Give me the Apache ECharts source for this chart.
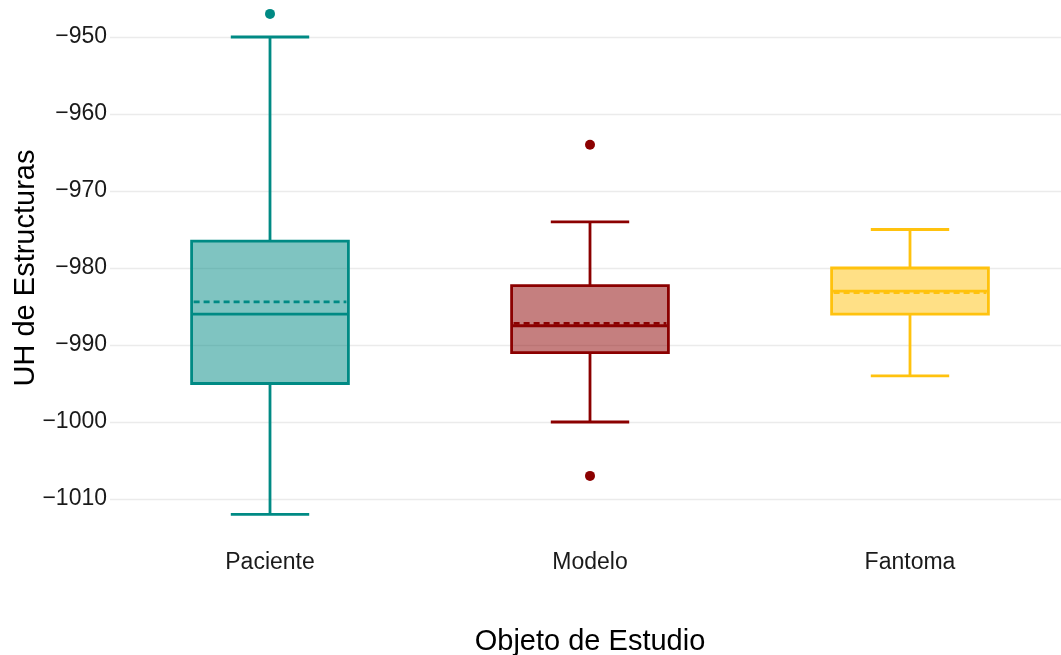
<!DOCTYPE html>
<html>
<head>
<meta charset="utf-8">
<title>UH de Estructuras por Objeto de Estudio</title>
<script src="https://cdn.jsdelivr.net/npm/echarts@6/dist/echarts.min.js"></script>
<style>
  html, body { margin: 0; padding: 0; background: #ffffff; }
  #chart { width: 1061px; height: 655px; }
</style>
</head>
<body>
<div id="chart"></div>
<script>
// Box statistics per study object (Hounsfield units)
const categories   = ['Paciente', 'Modelo', 'Fantoma'];
const whiskerLow   = [-1012, -1000, -994];
const quartile1    = [-995, -991, -986];
const medians      = [-986, -987.5, -983];
const quartile3    = [-976.5, -982.3, -980];
const whiskerHigh  = [-950, -974, -975];
const means        = [-984.4, -987.2, -983.2];
// Outliers: [category index, value]
const outliers     = [[0, -947], [1, -964], [1, -1007]];

const palette = ['#008A84', '#8B0000', '#FFC20E'];
const FONT = '"Liberation Sans", Arial, sans-serif';

const boxData = categories.map((c, i) => [
  i, whiskerLow[i], quartile1[i], medians[i], quartile3[i], whiskerHigh[i], means[i]
]);

function renderBox(params, api) {
  const i = api.value(0);
  const color = palette[i];
  const band = api.size([1, 0])[0];
  const halfBox = band * 0.49 / 2;
  const halfCap = halfBox / 2;
  const p = k => api.coord([i, api.value(k)]);
  const lo = p(1), q1 = p(2), md = p(3), q3 = p(4), hi = p(5), mn = p(6);
  const cx = lo[0];
  const lw = 2.8;
  const stroke = { stroke: color, lineWidth: lw, fill: null };
  return {
    type: 'group',
    children: [
      // whiskers
      { type: 'line', shape: { x1: cx, y1: q3[1], x2: cx, y2: hi[1] }, style: stroke },
      { type: 'line', shape: { x1: cx, y1: q1[1], x2: cx, y2: lo[1] }, style: stroke },
      { type: 'line', shape: { x1: cx - halfCap, y1: hi[1], x2: cx + halfCap, y2: hi[1] }, style: stroke },
      { type: 'line', shape: { x1: cx - halfCap, y1: lo[1], x2: cx + halfCap, y2: lo[1] }, style: stroke },
      // box
      {
        type: 'rect',
        shape: { x: cx - halfBox, y: q3[1], width: halfBox * 2, height: q1[1] - q3[1] },
        style: { fill: echarts.color.modifyAlpha(color, 0.5), stroke: color, lineWidth: lw }
      },
      // median
      { type: 'line', shape: { x1: cx - halfBox, y1: md[1], x2: cx + halfBox, y2: md[1] }, style: stroke },
      // mean (dashed)
      {
        type: 'line',
        shape: { x1: cx - halfBox + 2, y1: mn[1], x2: cx + halfBox - 2, y2: mn[1] },
        style: { stroke: color, lineWidth: 2.8, lineDash: [6, 4], fill: null }
      }
    ]
  };
}

const chart = echarts.init(document.getElementById('chart'), null, { renderer: 'canvas' });
chart.setOption({
  animation: false,
  backgroundColor: '#ffffff',
  grid: {
    left: 110, right: -9, top: -1.5, bottom: 117.5,
    containLabel: false, outerBoundsMode: 'none'
  },
  xAxis: {
    type: 'category',
    data: categories,
    boundaryGap: true,
    axisLine: { show: false },
    axisTick: { show: false },
    splitLine: { show: false },
    axisLabel: { color: '#1a1a1a', fontSize: 23, fontFamily: FONT, margin: 14 },
    name: 'Objeto de Estudio',
    nameLocation: 'middle',
    nameGap: 90,
    nameMoveOverlap: false,
    nameTextStyle: { color: '#000000', fontSize: 29, fontFamily: FONT }
  },
  yAxis: {
    type: 'value',
    min: -1015,
    max: -945,
    splitNumber: 7,
    axisLine: { show: false },
    axisTick: { show: false },
    splitLine: { show: true, showMinLine: false, showMaxLine: false, lineStyle: { color: '#ebebeb', width: 1.4 } },
    axisLabel: {
      color: '#1a1a1a', fontSize: 23, fontFamily: FONT, margin: 3,
      formatter: v => (Math.round(v) % 10 !== 0 ? '' : (v < 0 ? '\u2212' + Math.abs(v) : String(v)))
    },
    name: 'UH de Estructuras',
    nameLocation: 'middle',
    nameGap: 70,
    nameRotate: 90,
    nameMoveOverlap: false,
    nameTextStyle: { color: '#000000', fontSize: 29, fontFamily: FONT }
  },
  series: [
    {
      type: 'custom',
      renderItem: renderBox,
      data: boxData,
      encode: { x: 0, y: [1, 2, 3, 4, 5, 6] },
      z: 2
    },
    {
      type: 'scatter',
      symbol: 'circle',
      symbolSize: 10,
      data: outliers.map(o => ({ value: o, itemStyle: { color: palette[o[0]], opacity: 1 } })),
      z: 3
    }
  ]
});
</script>
</body>
</html>
